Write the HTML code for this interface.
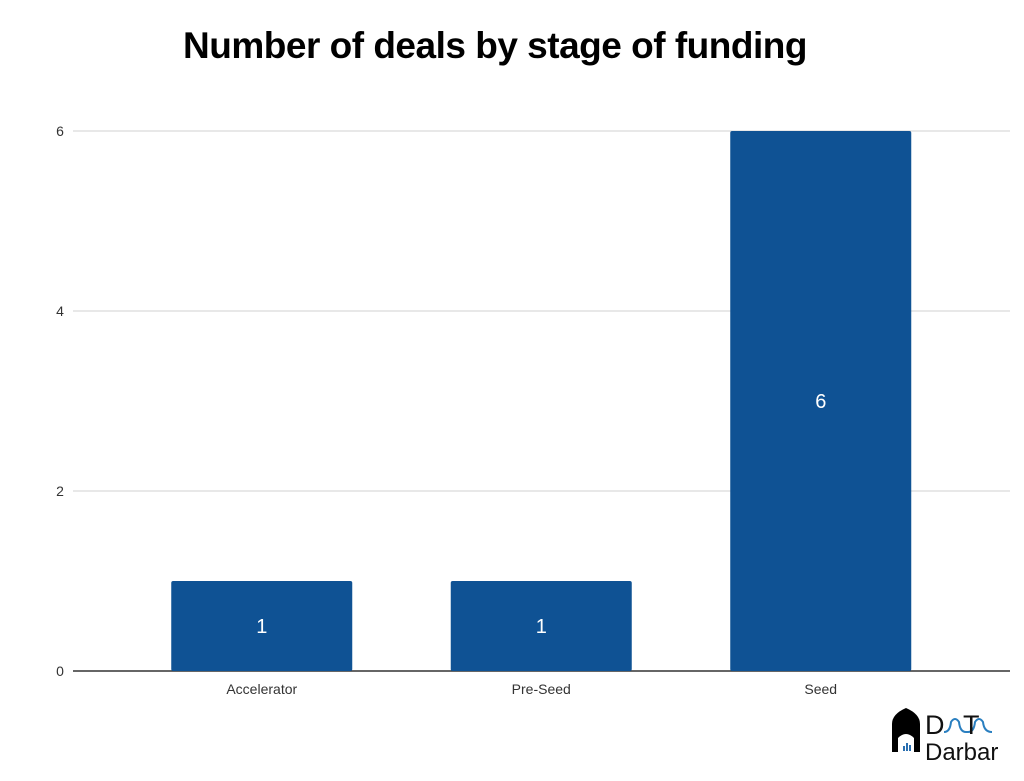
<!DOCTYPE html>
<html><head><meta charset="utf-8"><style>
body{margin:0;background:#fff;width:1024px;height:776px;overflow:hidden;font-family:"Liberation Sans",sans-serif}
</style></head><body>
<svg width="1024" height="776">
<text x="495" y="58" text-anchor="middle" font-size="37" font-weight="bold" fill="#000" style="letter-spacing:-0.5px">Number of deals by stage of funding</text>
<g id="grid"></g><g id="bars"></g>
<g>
<path d="M892 752 V724 Q892 714 906 708 Q920 714 920 724 V752 H914 V738 Q906 730 898 738 V752 Z" fill="#000"/>
<rect x="903" y="746" width="2" height="5" fill="#2a6fb0"/><rect x="906" y="743" width="2" height="8" fill="#2a6fb0"/><rect x="909" y="745" width="2" height="6" fill="#2a6fb0"/>
<text x="925" y="734" font-size="27" fill="#111">D</text>
<path d="M944 732 Q950 732 951 722 Q955 716 959 722 Q960 732 966 732 L968 732 Q974 732 975 722 Q979 716 983 722 Q984 732 992 732" fill="none" stroke="#2a7fc0" stroke-width="2"/>
<text x="963" y="734" font-size="27" fill="#111">T</text>
<text x="925" y="760" font-size="24" fill="#111">Darbar</text>
</g>
</svg>
<script>
const categories=["Accelerator","Pre-Seed","Seed"];
const values=[1,1,6];
const ticks=[0,2,4,6];
const svg=document.querySelector('svg');
const ns="http://www.w3.org/2000/svg";
const y0=671,unit=90,left=122,band=279.5,barW=181;
const Y=v=>y0-v*unit;
const X=i=>left+band*i+band/2;
function mk(t,a,p){const e=document.createElementNS(ns,t);for(const k in a)e.setAttribute(k,a[k]);(p||svg).appendChild(e);return e;}
const g=document.getElementById('grid'),b=document.getElementById('bars');
ticks.forEach(t=>{
 const l=mk('line',{x1:73,x2:1010,y1:Y(t),y2:Y(t),stroke:t===0?'#333':'#d0d0d0','stroke-width':t===0?1.5:1},g);
 
 
 const tx=mk('text',{x:60,y:Y(t)+5,'text-anchor':'middle','font-size':14,fill:'#333'},g);
 tx.textContent=t;
 
 
});
categories.forEach((c,i)=>{
 const r=mk('rect',{x:X(i)-barW/2,y:Y(values[i]),width:barW,height:values[i]*unit,fill:'#0f5294',rx:2},b);
 
 
 const v=mk('text',{x:X(i),y:Y(values[i]/2)+7,'text-anchor':'middle','font-size':20,fill:'#fff'},b);
 v.textContent=values[i];
 
 
 const l=mk('text',{x:X(i),y:694,'text-anchor':'middle','font-size':14,fill:'#333'},b);
 l.textContent=c;
 
 
});
</script>
</body></html>
